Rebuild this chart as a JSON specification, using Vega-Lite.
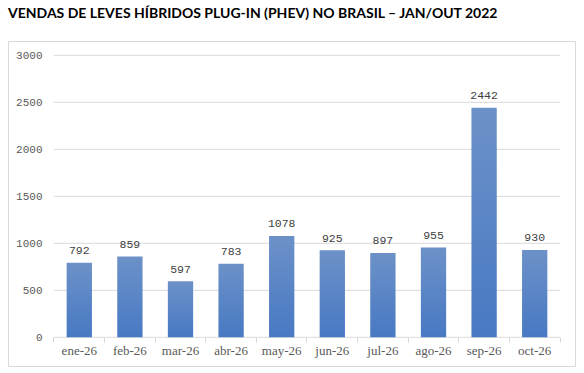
{
  "$schema": "https://vega.github.io/schema/vega-lite/v6.json",
  "width": 567,
  "height": 325,
  "autosize": {"type": "none"},
  "padding": {"left": 8, "top": 41, "right": 9, "bottom": 7},
  "background": "white",
  "title": {
    "text": "VENDAS DE LEVES HÍBRIDOS PLUG-IN (PHEV) NO BRASIL – JAN/OUT 2022",
    "anchor": "start",
    "frame": "group",
    "font": "Lato",
    "fontSize": 14,
    "fontWeight": "bold",
    "color": "#000000",
    "baseline": "alphabetic",
    "offset": 9.5
  },
  "datasets": {
    "sales": [
      {"mes": "ene-26", "v": 792},
      {"mes": "feb-26", "v": 859},
      {"mes": "mar-26", "v": 597},
      {"mes": "abr-26", "v": 783},
      {"mes": "may-26", "v": 1078},
      {"mes": "jun-26", "v": 925},
      {"mes": "jul-26", "v": 897},
      {"mes": "ago-26", "v": 955},
      {"mes": "sep-26", "v": 2442},
      {"mes": "oct-26", "v": 930}
    ],
    "grid": [
      {"v": 0}, {"v": 500}, {"v": 1000}, {"v": 1500}, {"v": 2000}, {"v": 2500}, {"v": 3000}
    ]
  },
  "layer": [
    {
      "data": {"name": "grid"},
      "mark": {"type": "rule", "color": "#d9d9d9", "strokeWidth": 1},
      "encoding": {
        "y": {"field": "v", "type": "quantitative", "title": null,
              "scale": {"domain": [-305.3, 3152.1], "nice": false, "zero": false}},
        "x": {"datum": "ene-26", "type": "nominal", "bandPosition": -0.5, "axis": null,
              "scale": {"domain": ["ene-26","feb-26","mar-26","abr-26","may-26","jun-26","jul-26","ago-26","sep-26","oct-26"],
                        "paddingInner": 0.5, "paddingOuter": 0.8527, "align": 0.6796}},
        "x2": {"datum": "oct-26", "bandPosition": 1.5}
      }
    },
    {
      "data": {"name": "sales"},
      "mark": {
        "type": "bar",
        "fill": {
          "gradient": "linear", "x1": 0, "y1": 0, "x2": 0, "y2": 1,
          "stops": [{"offset": 0, "color": "#6c91c8"}, {"offset": 1, "color": "#4879c3"}]
        }
      },
      "encoding": {
        "x": {"field": "mes", "type": "nominal", "title": null,
              "scale": {"domain": ["ene-26","feb-26","mar-26","abr-26","may-26","jun-26","jul-26","ago-26","sep-26","oct-26"],
                        "paddingInner": 0.5, "paddingOuter": 0.8527, "align": 0.6796},
              "axis": {"orient": "bottom", "bandPosition": -0.5, "offset": -29, "domain": false, "grid": false,
                       "ticks": true, "tickSize": 5, "tickColor": "#d9d9d9", "tickWidth": 1,
                       "labelFont": "Liberation Serif, Times New Roman, serif", "labelFontSize": 13, "labelColor": "#595959",
                       "labelPadding": 2, "labelAngle": 0}},
        "y": {"field": "v", "type": "quantitative", "title": null,
              "scale": {"domain": [-305.3, 3152.1], "nice": false, "zero": false},
              "axis": {"values": [0, 500, 1000, 1500, 2000, 2500, 3000], "format": "d", "offset": -46, "labelPadding": 12,
                       "ticks": false, "tickSize": 0, "domain": false, "grid": false,
                       "labelFont": "Liberation Mono", "labelFontSize": 11, "labelColor": "#595959"}},
        "y2": {"datum": 0}
      }
    },
    {
      "data": {"name": "sales"},
      "mark": {"type": "text", "baseline": "alphabetic", "dy": -8.5, "font": "Liberation Mono", "fontSize": 11.5, "fill": "#404040"},
      "encoding": {
        "x": {"field": "mes", "type": "nominal", "title": null,
              "scale": {"domain": ["ene-26","feb-26","mar-26","abr-26","may-26","jun-26","jul-26","ago-26","sep-26","oct-26"],
                        "paddingInner": 0.5, "paddingOuter": 0.8527, "align": 0.6796},
              "axis": {"orient": "bottom", "bandPosition": 1.5, "offset": -29, "labels": false, "domain": false, "grid": false,
                       "ticks": true, "tickSize": 5, "tickColor": "#d9d9d9", "tickWidth": 1}},
        "y": {"field": "v", "type": "quantitative", "title": null,
              "scale": {"domain": [-305.3, 3152.1], "nice": false, "zero": false}},
        "text": {"field": "v", "type": "quantitative"}
      }
    }
  ],
  "resolve": {"axis": {"x": "independent"}},
  "config": {
    "view": {"stroke": "#d9d9d9", "strokeWidth": 1}
  }
}
